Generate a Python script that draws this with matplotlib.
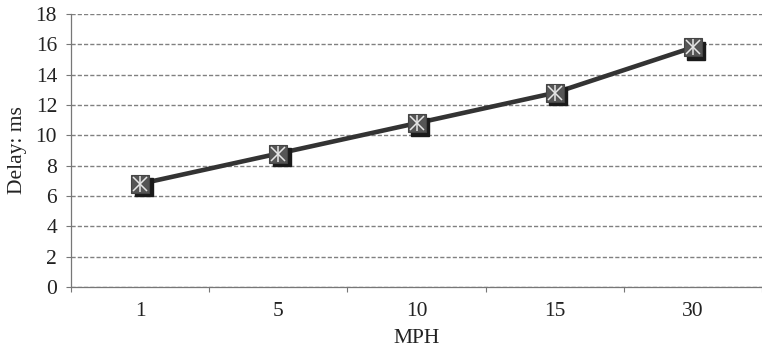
import matplotlib
matplotlib.use("Agg")
import matplotlib.pyplot as plt
import matplotlib.transforms as mtransforms

speeds = ["1", "5", "10", "15", "30"]
delay_ms = [6.8, 8.8, 10.8, 12.8, 15.8]
y_ticks = [0, 2, 4, 6, 8, 10, 12, 14, 16, 18]

plt.rcParams["font.family"] = ["Liberation Serif", "DejaVu Serif"]
FS = 15.5

fig = plt.figure(figsize=(7.62, 3.49), dpi=100)
ax = fig.add_axes([71 / 762, 1 - 287 / 349, 1 - 71 / 762, (287 - 14) / 349])

x = list(range(len(speeds)))

# connecting line
ax.plot(x, delay_ms, color="#333333", lw=3.3, zorder=3, solid_capstyle="round")

# square markers with a drop shadow
shadow = mtransforms.offset_copy(ax.transData, fig=fig, x=3.5, y=-3.5, units="dots")
ax.plot(x, delay_ms, ls="none", marker="s", ms=12.3, mfc="#1a1a1a", mec="#1a1a1a",
        transform=shadow, zorder=4)
ax.plot(x, delay_ms, ls="none", marker="s", ms=12.3, mfc="#555555", mec="#444444",
        mew=0.8, zorder=5)
ax.plot(x, delay_ms, ls="none", marker="x", ms=10, mec="#e6e6e6", mew=1.1, zorder=6)
ax.plot(x, delay_ms, ls="none", marker="|", ms=11, mec="#e6e6e6", mew=1.1, zorder=6)

ax.set_xlim(-0.5, len(speeds) - 0.5 - 9 / 140)
ax.set_ylim(0, 18)
ax.set_yticks(y_ticks)
ax.set_xticks(x)
ax.set_xticklabels(speeds)
ax.set_xticks([i + 0.5 for i in range(-1, len(speeds))], minor=True)
ax.tick_params(axis="x", which="major", length=0, pad=11, labelsize=FS, colors="#222222")
ax.tick_params(axis="x", which="minor", length=3.5, width=0.8, color="#777777", direction="out")
ax.tick_params(axis="y", length=3.5, width=0.8, color="#777777", labelsize=FS,
               labelcolor="#222222", pad=6.5)

ax.yaxis.grid(True, ls=(0, (3, 1.5)), color="#808080", lw=1.0)
ax.set_axisbelow(True)

for side in ("top", "right"):
    ax.spines[side].set_visible(False)
for side in ("left", "bottom"):
    ax.spines[side].set_color("#777777")
    ax.spines[side].set_linewidth(0.9)

ax.set_xlabel("MPH", fontsize=FS, color="#222222", labelpad=5.5)
ax.set_ylabel("Delay: ms", fontsize=FS, color="#222222", labelpad=6)

fig.savefig("out.png", dpi=100)
